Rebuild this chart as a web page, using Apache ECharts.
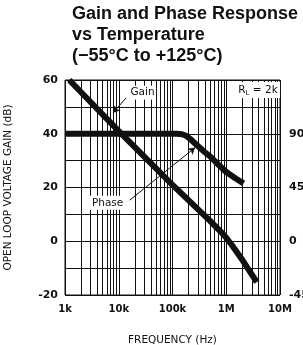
<!DOCTYPE html>
<html>
<head>
<meta charset="utf-8">
<script src="https://cdn.jsdelivr.net/npm/echarts@6/dist/echarts.min.js"></script>
<style>
  html, body { margin: 0; padding: 0; background: #fff; }
  #chart { width: 303px; height: 345px; }
</style>
</head>
<body>
<div id="chart"></div>
<script>
// open loop gain (dB) vs frequency (Hz)
const gainFreq = [1200, 10000, 100000, 500000, 700000, 850000, 1000000, 1250000,
    1500000, 2000000, 2700000, 3700000];
const gainDb = [60, 41, 21, 7.6, 4.6, 2.9, 1.3, -1.2, -3.4, -7, -11, -15.2];

// phase margin (deg) vs frequency (Hz)
const phaseFreq = [1000, 120000, 150000, 180000, 210000, 240000, 300000, 400000,
    500000, 700000, 1000000, 1500000, 2100000];
const phaseDeg = [90, 90, 89.6, 88.3, 86, 83.5, 79.5, 74.5, 71, 64.5, 58, 52.5, 48.5];

const freqTicks = [1000, 10000, 100000, 1000000, 10000000];
const freqTickLabels = ['1k', '10k', '100k', '1M', '10M'];
const gainTicks = [60, 40, 20, 0, -20];
const phaseTicks = [90, 45, 0, -45];

// minor log grid (2..9 in each decade)
const minorGrid = [];
freqTicks.slice(0, -1).forEach(function (d) {
    for (let m = 2; m <= 9; m++) minorGrid.push({ xAxis: m * d });
});

const font = 'DejaVu Sans';
const ink = '#111';

const labelFreq = function (v) {
    const i = freqTicks.findIndex(function (t) {
        return Math.abs(Math.log10(t) - Math.log10(v)) < 1e-6;
    });
    return i < 0 ? '' : freqTickLabels[i];
};

option = {
    backgroundColor: '#fff',
    animation: false,
    title: {
        text: 'Gain and Phase Response\nvs Temperature\n(\u221255\u00b0C to +125\u00b0C)',
        left: 72,
        top: 4,
        padding: 0,
        textStyle: {
            fontFamily: 'Liberation Sans',
            fontWeight: 'bold',
            fontSize: 18,
            lineHeight: 21,
            color: ink,
        },
    },
    grid: {
        left: 65,
        right: 23,
        top: 80,
        bottom: 50,
        outerBoundsMode: 'none',
        show: true,
        borderColor: ink,
        borderWidth: 1,
    },
    xAxis: {
        type: 'log',
        logBase: 10,
        min: 1000,
        max: 10000000,
        name: 'FREQUENCY (Hz)',
        nameLocation: 'middle',
        nameGap: 40,
        nameTextStyle: { fontFamily: font, fontSize: 10.5, color: ink },
        axisLine: { show: false },
        axisTick: { show: false },
        axisLabel: {
            margin: 9,
            fontFamily: font,
            fontSize: 10,
            fontWeight: 'bold',
            color: ink,
            formatter: labelFreq,
        },
        splitLine: { show: true, lineStyle: { color: ink, width: 1 } },
    },
    yAxis: [{
        type: 'value',
        min: -20,
        max: 60,
        interval: 10,
        name: 'OPEN LOOP VOLTAGE GAIN (dB)',
        nameLocation: 'middle',
        nameGap: 51,
        nameTextStyle: { fontFamily: font, fontSize: 10.5, color: ink },
        axisLine: { show: false },
        axisTick: { show: false },
        axisLabel: {
            margin: 7,
            fontFamily: font,
            fontSize: 11,
            fontWeight: 'bold',
            color: ink,
            formatter: function (v) { return gainTicks.indexOf(v) >= 0 ? String(v) : ''; },
        },
        splitLine: { show: true, lineStyle: { color: ink, width: 1 } },
    }, {
        type: 'value',
        min: -45,
        max: 135,
        interval: 45,
        position: 'right',
        axisLine: { show: false },
        axisTick: { show: false },
        axisLabel: {
            margin: 9,
            fontFamily: font,
            fontSize: 11,
            fontWeight: 'bold',
            color: ink,
            formatter: function (v) { return phaseTicks.indexOf(v) >= 0 ? String(v) : ''; },
        },
        splitLine: { show: false },
    }],
    series: [{
        name: 'Gain',
        type: 'line',
        yAxisIndex: 0,
        z: 3,
        showSymbol: false,
        lineStyle: { color: ink, width: 6, cap: 'butt', join: 'round' },
        data: gainFreq.map(function (f, i) { return [f, gainDb[i]]; }),
        markLine: {
            silent: true,
            z: 4,
            symbol: ['none', 'arrow'],
            symbolSize: [6, 7],
            label: { show: false },
            lineStyle: { color: ink, width: 1, type: 'solid' },
            data: [
                [{ coord: [13600, 53.3] }, { coord: [7800, 47.7] }],
                [{ coord: [16000, 15.3] }, { coord: [265000, 34.9] }],
            ],
        },
        markPoint: {
            silent: true,
            z: 5,
            symbol: 'rect',
            itemStyle: { color: '#fff' },
            label: {
                show: true,
                position: 'inside',
                fontFamily: font,
                fontSize: 10.5,
                color: ink,
            },
            data: [
                { coord: [27700, 55.3], symbolSize: [27, 14], label: { formatter: 'Gain' } },
                { coord: [6200, 14.3], symbolSize: [36, 14], label: { formatter: 'Phase' } },
                {
                    coord: [3900000, 56.3],
                    symbolSize: [44, 16],
                    label: {
                        formatter: '{r|R}{s|L}{r| = 2k}',
                        rich: {
                            r: { fontFamily: font, fontSize: 10.5, color: ink },
                            s: { fontFamily: font, fontSize: 7, color: ink, padding: [6, 0, 0, 0] },
                        },
                    },
                },
            ],
        },
    }, {
        name: 'Phase',
        type: 'line',
        yAxisIndex: 1,
        z: 3,
        showSymbol: false,
        lineStyle: { color: ink, width: 6, cap: 'butt', join: 'round' },
        data: phaseFreq.map(function (f, i) { return [f, phaseDeg[i]]; }),
        markLine: {
            silent: true,
            z: 1,
            symbol: 'none',
            label: { show: false },
            lineStyle: { color: ink, width: 1, type: 'solid' },
            data: minorGrid,
        },
    }],
};

dom = document.getElementById('chart');
chart = echarts.init(dom);
chart.setOption(option);
</script>
</body>
</html>
